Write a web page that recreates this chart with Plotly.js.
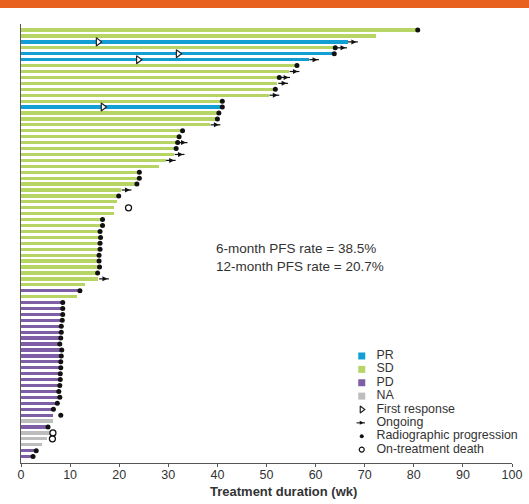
<!DOCTYPE html>
<html>
<head>
<meta charset="utf-8">
<script src="https://cdn.plot.ly/plotly-3.0.1.min.js"></script>
<style>
  html, body { margin: 0; padding: 0; background: #ffffff; }
  #wrap { position: relative; width: 529px; height: 504px; }
  #strip { position: absolute; left: 0; top: 0; width: 529px; height: 8px; background: #E8611F; z-index: 5; }
  #chart { position: absolute; left: 0; top: 0; width: 529px; height: 504px; }
</style>
</head>
<body>
<div id="wrap"><div id="strip"></div><div id="chart"></div></div>
<script>
// ---- data (weeks) ----
const durations = [80.8,72.2,66.5,64.0,63.8,58.6,56.2,54.5,52.6,52.2,51.8,50.6,41.0,41.0,40.3,40.0,38.5,32.9,32.2,31.9,31.6,31.2,29.5,28.1,24.1,24.1,23.6,20.4,19.9,19.5,19.0,18.9,16.6,16.6,16.1,16.2,16.1,16.1,15.9,15.9,16.0,15.6,15.6,13.1,12.0,11.4,8.5,8.5,8.5,8.4,8.2,8.2,8.1,7.9,8.3,8.2,8.1,8.1,8.0,8.0,7.9,7.7,7.9,7.4,6.6,6.6,6.6,5.5,6.0,5.2,4.3,3.1,2.45];
const responses = ['SD','SD','PR','SD','PR','PR','SD','SD','SD','SD','SD','SD','SD','PR','SD','SD','SD','SD','SD','SD','SD','SD','SD','SD','SD','SD','SD','SD','SD','SD','SD','SD','SD','SD','SD','SD','SD','SD','SD','SD','SD','SD','SD','SD','PD','SD','PD','PD','PD','PD','PD','PD','PD','PD','PD','PD','PD','PD','PD','PD','PD','PD','PD','PD','PD','PD','NA','PD','NA','NA','NA','PD','PD'];

const progressionRows = [1,4,5,7,9,11,13,14,15,16,18,19,20,21,25,26,27,29,33,34,35,36,37,38,39,40,41,42,45,47,48,49,50,51,52,53,54,55,56,57,58,59,60,61,62,63,64,65,66,68,72,73];
const progressionWeeks = [80.8,64.0,63.8,56.2,52.6,51.8,41.0,41.0,40.3,40.0,32.9,32.2,31.9,31.6,24.1,24.1,23.6,19.9,16.6,16.6,16.1,16.2,16.1,16.1,15.9,15.9,16.0,15.6,12.0,8.5,8.5,8.5,8.4,8.2,8.2,8.1,7.9,8.3,8.2,8.1,8.1,8.0,8.0,7.9,7.7,7.9,7.4,6.6,8.1,5.5,3.1,2.45];

const ongoingRows = [3,4,6,8,9,10,12,17,20,22,23,28,43];
const ongoingWeeks = [67.6,65.4,59.7,55.7,53.8,53.4,51.6,39.6,32.9,32.3,30.5,21.5,16.9];

const firstResponseRows = [3,5,6,14];
const firstResponseWeeks = [15.7,32.0,23.9,16.7];

const deathRows = [31,69,70];
const deathWeeks = [21.9,6.5,6.4];

const pfsText = ['6-month PFS rate = 38.5%', '12-month PFS rate = 20.7%'];
const xTitle = 'Treatment duration (wk)';

const legendLabels = ['PR','SD','PD','NA','First response','Ongoing','Radiographic progression','On-treatment death'];

// ---- styles ----
const colorMap = { PR: '#139FD3', SD: '#B6D564', PD: '#7E5FA6', NA: '#BDBDBD' };
const rows = durations.map((d, i) => i + 1);
const headShift = 0.7; // arrowhead sits at the right end of the arrow shaft

const traces = [];
traces.push({
  type: 'bar', orientation: 'h',
  x: durations, y: rows, width: 0.55,
  marker: { color: responses.map(r => colorMap[r]), line: { width: 0 } },
  hoverinfo: 'x', showlegend: false
});
traces.push({
  type: 'scatter', mode: 'markers',
  x: firstResponseWeeks, y: firstResponseRows,
  marker: { symbol: 'triangle-right', size: 7, color: '#ffffff', line: { color: '#222', width: 1.2 } },
  showlegend: false
});
// ongoing arrows: shaft + head
traces.push({
  type: 'scatter', mode: 'markers',
  x: ongoingWeeks, y: ongoingRows,
  marker: { symbol: 'line-ew', size: 7, color: '#111', line: { color: '#111', width: 1.2 } },
  showlegend: false
});
traces.push({
  type: 'scatter', mode: 'markers',
  x: ongoingWeeks.map(v => v + headShift), y: ongoingRows,
  marker: { symbol: 'arrow-right', size: 5, color: '#111', line: { width: 0 } },
  showlegend: false
});
traces.push({
  type: 'scatter', mode: 'markers',
  x: progressionWeeks, y: progressionRows,
  marker: { symbol: 'circle', size: 5, color: '#111' },
  showlegend: false
});
traces.push({
  type: 'scatter', mode: 'markers',
  x: deathWeeks, y: deathRows,
  marker: { symbol: 'circle-open', size: 6, color: '#111', line: { width: 1.3 } },
  showlegend: false
});

// ---- custom legend on overlay axes ----
const legX = 69.4;
const legIdx = legendLabels.map((l, i) => i);
traces.push({
  type: 'scatter', mode: 'markers', xaxis: 'x2', yaxis: 'y2',
  x: [legX, legX, legX, legX], y: [0, 1, 2, 3],
  marker: { symbol: 'square', size: 7, color: ['PR','SD','PD','NA'].map(k => colorMap[k]) },
  showlegend: false, hoverinfo: 'skip'
});
traces.push({
  type: 'scatter', mode: 'markers', xaxis: 'x2', yaxis: 'y2',
  x: [legX], y: [4],
  marker: { symbol: 'triangle-right', size: 6, color: '#ffffff', line: { color: '#222', width: 1.2 } },
  showlegend: false, hoverinfo: 'skip'
});
traces.push({
  type: 'scatter', mode: 'markers', xaxis: 'x2', yaxis: 'y2',
  x: [legX - 0.2], y: [5],
  marker: { symbol: 'line-ew', size: 6, color: '#111', line: { color: '#111', width: 1.1 } },
  showlegend: false, hoverinfo: 'skip'
});
traces.push({
  type: 'scatter', mode: 'markers', xaxis: 'x2', yaxis: 'y2',
  x: [legX - 0.2 + 0.6], y: [5],
  marker: { symbol: 'arrow-right', size: 4, color: '#111', line: { width: 0 } },
  showlegend: false, hoverinfo: 'skip'
});
traces.push({
  type: 'scatter', mode: 'markers', xaxis: 'x2', yaxis: 'y2',
  x: [legX], y: [6], marker: { symbol: 'circle', size: 4, color: '#111' },
  showlegend: false, hoverinfo: 'skip'
});
traces.push({
  type: 'scatter', mode: 'markers', xaxis: 'x2', yaxis: 'y2',
  x: [legX], y: [7], marker: { symbol: 'circle-open', size: 5, color: '#111', line: { width: 1.2 } },
  showlegend: false, hoverinfo: 'skip'
});
traces.push({
  type: 'scatter', mode: 'text', xaxis: 'x2', yaxis: 'y2',
  x: legIdx.map(() => legX + 3.0), y: legIdx, text: legendLabels,
  textposition: 'middle right', cliponaxis: false,
  textfont: { size: 12.4, color: '#333' },
  showlegend: false, hoverinfo: 'skip'
});

const layout = {
  width: 529, height: 504,
  margin: { l: 21, r: 17, t: 24, b: 41, pad: 0 },
  paper_bgcolor: '#ffffff', plot_bgcolor: '#ffffff',
  font: { family: 'Liberation Sans, Arial, sans-serif', size: 12, color: '#333' },
  showlegend: false,
  bargap: 0,
  xaxis: {
    range: [0, 100], dtick: 10, tick0: 0,
    showgrid: false, zeroline: false,
    showline: true, linecolor: '#555', linewidth: 1,
    ticks: 'outside', ticklen: 3, tickcolor: '#555', tickwidth: 1,
    ticklabelstandoff: -3,
    tickfont: { size: 12.5, color: '#333' },
    fixedrange: true
  },
  yaxis: {
    range: [74.08, -0.02],
    showgrid: false, zeroline: false, showticklabels: false, ticks: '',
    showline: true, linecolor: '#555', linewidth: 1,
    fixedrange: true
  },
  xaxis2: { overlaying: 'x', anchor: 'y2', range: [0, 100], visible: false, fixedrange: true },
  yaxis2: { overlaying: 'y', anchor: 'x2', range: [8.0, -24.82], visible: false, fixedrange: true },
  annotations: [{
    xref: 'x', yref: 'y', x: 39.3, y: 39.4,
    xanchor: 'left', yanchor: 'middle', align: 'left',
    text: pfsText.join('<br>'), showarrow: false,
    font: { size: 13.5, color: '#333' }
  }, {
    xref: 'paper', yref: 'paper', x: 0.5356, y: -0.066,
    xanchor: 'center', yanchor: 'middle',
    text: '<b>' + xTitle + '</b>', showarrow: false,
    font: { size: 13, color: '#333' }
  }]
};

Plotly.newPlot('chart', traces, layout, { staticPlot: true, displayModeBar: false });
</script>
</body>
</html>
